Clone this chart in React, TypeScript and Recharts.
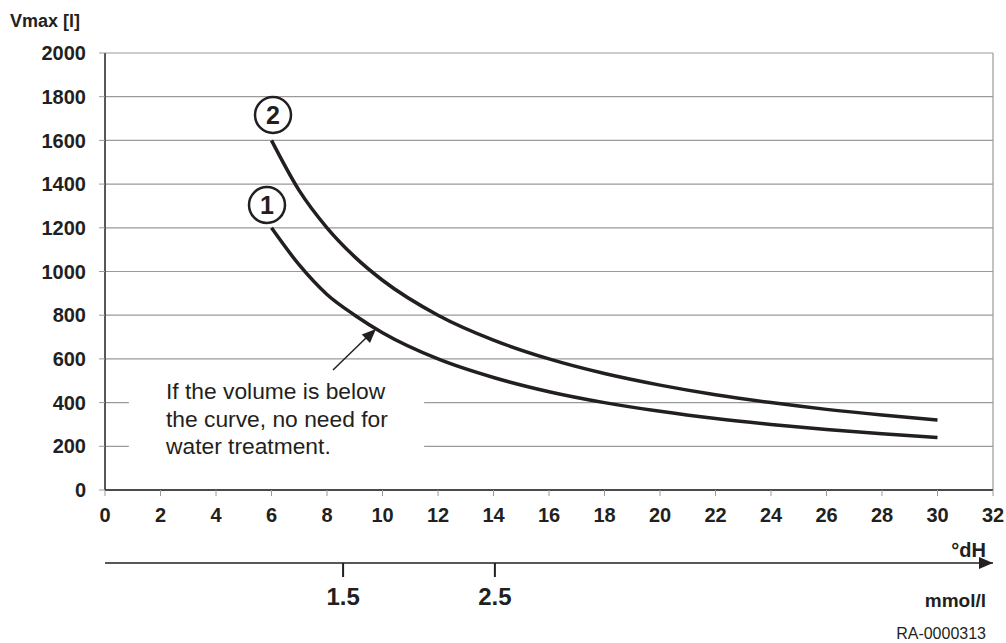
import { LineChart, Line, XAxis, YAxis, CartesianGrid, ReferenceLine, ReferenceArea } from 'recharts'

// water hardness in °dH
const hardness = [6, 7, 8, 9, 10, 12, 14, 16, 18, 20, 22, 24, 26, 28, 30]
// curve 1 and curve 2, Vmax in litres
const curve1 = [1200, 1030, 895, 800, 720, 600, 515, 450, 400, 360, 327, 300, 277, 257, 240]
const curve2 = [1600, 1370, 1200, 1067, 960, 800, 686, 600, 533, 480, 436, 400, 369, 343, 320]

const xTicks = [0, 2, 4, 6, 8, 10, 12, 14, 16, 18, 20, 22, 24, 26, 28, 30, 32]
const yTicks = [0, 200, 400, 600, 800, 1000, 1200, 1400, 1600, 1800, 2000]
// mmol/l scale under the °dH axis: where each label sits, in °dH
const mmolTickPos = [8.58, 14.05]
const mmolLabels = ['1.5', '2.5']

const noteLines = ['If the volume is below', 'the curve, no need for', 'water treatment.']

const data = hardness.map((h, i) => ({ h, c1: curve1[i], c2: curve2[i] }))

const ink = '#231f20'
const grid = '#9a9a9a'
const font = '"Liberation Sans", Arial, sans-serif'

export default function App() {
  return (
    <div style={{ position: 'absolute', left: 0, top: 0, width: 1006, height: 643, background: '#fff', fontFamily: font }}>
      <LineChart
        width={1006}
        height={643}
        data={data}
        margin={{ top: 53, right: 13, left: 0, bottom: 30 }}
      >
        <CartesianGrid vertical={false} stroke={grid} strokeWidth={1.2} />
        <ReferenceLine x={32} stroke={grid} strokeWidth={1.2} />
        <ReferenceArea x1={0.86} x2={11.5} y1={114} y2={549} fill="#fff" fillOpacity={1} stroke="none" />
        <XAxis
          dataKey="h"
          type="number"
          domain={[0, 32]}
          ticks={xTicks}
          height={73}
          tickSize={6}
          tickMargin={12}
          axisLine={{ stroke: ink, strokeWidth: 1.5 }}
          tickLine={{ stroke: grid }}
          tick={{ fill: ink, fontSize: 20, fontWeight: 'bold', fontFamily: font }}
        />
        <XAxis
          xAxisId="mmol"
          dataKey="h"
          type="number"
          domain={[0, 32]}
          ticks={mmolTickPos}
          tickFormatter={(v: number) => mmolLabels[mmolTickPos.indexOf(v)] ?? ''}
          height={50}
          tickSize={14}
          tickMargin={11}
          axisLine={{ stroke: ink, strokeWidth: 1.5 }}
          tickLine={{ stroke: ink, strokeWidth: 2 }}
          tick={{ fill: ink, fontSize: 24, fontWeight: 'bold', fontFamily: font }}
        />
        <YAxis
          type="number"
          domain={[0, 2000]}
          ticks={yTicks}
          width={105}
          tickSize={6}
          tickMargin={13}
          axisLine={{ stroke: ink, strokeWidth: 1.5 }}
          tickLine={{ stroke: grid }}
          tick={{ fill: ink, fontSize: 20, fontWeight: 'bold', fontFamily: font }}
        />
        <Line dataKey="c1" type="monotone" stroke={ink} strokeWidth={3.5} dot={false} isAnimationActive={false} />
        <Line dataKey="c2" type="monotone" stroke={ink} strokeWidth={3.5} dot={false} isAnimationActive={false} />
      </LineChart>

      {/* labels, callouts and arrows on top */}
      <svg width={1006} height={643} style={{ position: 'absolute', left: 0, top: 0, pointerEvents: 'none' }}>
        <text x={10} y={27} fontSize={18} fontWeight="bold" fill={ink} fontFamily={font}>Vmax [l]</text>

        {noteLines.map((t, i) => (
          <text key={t} x={166} y={399 + i * 27.5} fontSize={22.8} fill={ink} fontFamily={font}>{t}</text>
        ))}
        <line x1={333} y1={370} x2={367} y2={337} stroke={ink} strokeWidth={1.5} />
        <polygon points="376,329 370,343 361.8,334.4" fill={ink} />

        <circle cx={273} cy={115} r={18} fill="#fff" stroke={ink} strokeWidth={2.5} />
        <text x={273} y={124} textAnchor="middle" fontSize={25} fontWeight="bold" fill={ink} fontFamily={font}>2</text>
        <circle cx={267} cy={205} r={18} fill="#fff" stroke={ink} strokeWidth={2.5} />
        <text x={267} y={214} textAnchor="middle" fontSize={25} fontWeight="bold" fill={ink} fontFamily={font}>1</text>

        <polygon points="993,563 979,557 979,569" fill={ink} />
        <text x={986} y={557} textAnchor="end" fontSize={20} fontWeight="bold" fill={ink} fontFamily={font}>°dH</text>
        <text x={986} y={607} textAnchor="end" fontSize={19} fontWeight="bold" fill={ink} fontFamily={font}>mmol/l</text>
        <text x={986} y={639} textAnchor="end" fontSize={16} fill={ink} fontFamily={font}>RA-0000313</text>
      </svg>
    </div>
  )
}
